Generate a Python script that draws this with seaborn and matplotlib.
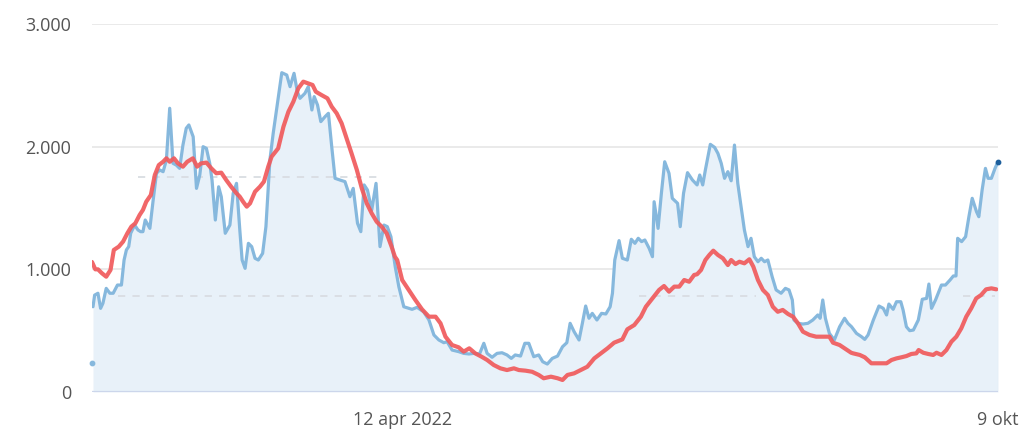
import numpy as np
import pandas as pd
import matplotlib
matplotlib.use("Agg")
import matplotlib.pyplot as plt
import matplotlib.ticker as mticker
import seaborn as sns

# ---------------- data ----------------
start_date = "2022-01-08"

blue_days = [0.3, 0.8, 1.8, 2.6, 3.3, 4.3, 5.4, 6.4, 7.7, 8.9, 9.7, 10.4, 11.1, 11.7, 12.9, 13.9,
             14.7, 15.4, 16.1, 17.5, 18.5, 19.5, 20.5, 21.5, 22.5, 23.5, 24.0, 24.5, 25.5, 26.5,
             27.5, 28.5, 29.3, 30.6, 31.6, 32.6, 33.6, 34.6, 35.6, 36.3, 37.3, 38.3, 39.1, 40.3,
             41.7, 42.7, 43.7, 44.7, 45.4, 46.3, 47.3, 48.3, 49.3, 50.3, 51.6, 52.6, 53.8, 54.8,
             56.1, 57.4, 58.9, 59.9, 61.1, 62.1, 62.9, 64.4, 65.4, 66.5, 67.2, 68.2, 69.2, 70.5,
             71.5, 72.5, 73.5, 75.0, 76.5, 78.0, 79.0, 80.3, 81.3, 82.3, 83.3, 84.6, 85.9, 87.1,
             88.3, 89.3, 90.4, 91.7, 92.8, 94.3, 96.8, 98.3, 100.3, 101.9, 103.4, 104.9, 106.4,
             107.4, 108.9, 110.9, 112.4, 114.0, 115.5, 117.2, 118.5, 119.5, 121.0, 122.5, 124.0,
             125.5, 126.8, 128.0, 129.6, 130.9, 132.1, 133.6, 135.1, 136.3, 137.7, 139.2, 140.8,
             142.3, 143.6, 144.6, 145.8, 147.3, 148.3, 149.3, 150.3, 151.3, 152.7, 154.1, 155.4,
             156.7, 157.4, 158.1, 159.4, 160.4, 161.9, 163.1, 164.2, 165.2, 166.2, 167.2, 168.5,
             169.5, 170.0, 171.2, 172.2, 173.2, 174.5, 175.5, 177.1, 177.9, 178.9, 180.1, 181.6,
             183.0, 183.8, 184.7, 185.5, 187.0, 188.3, 189.3, 190.3, 191.3, 192.3, 193.3, 194.3,
             195.3, 196.3, 197.3, 198.4, 199.3, 200.3, 201.4, 202.4, 203.4, 204.4, 205.7, 206.9,
             208.4, 209.7, 210.8, 211.8, 212.3, 213.5, 215.0, 216.5, 218.0, 219.5, 220.2, 221.0,
             221.8, 223.0, 224.5, 226.1, 227.6, 228.6, 229.7, 231.2, 232.7, 233.7, 234.7, 236.3,
             238.0, 239.3, 240.3, 241.0, 242.3, 243.3, 244.6, 245.3, 246.3, 247.3, 248.4, 249.9,
             251.1, 252.4, 253.1, 253.9, 255.1, 256.9, 258.1, 259.5, 260.5, 261.3, 261.8, 263.0,
             264.2, 265.2, 266.2, 267.5, 268.2, 269.2, 270.2, 271.0, 272.0, 273.1, 274.0]
blue_vals = [695, 790, 805, 682, 723, 845, 805, 805, 872, 872, 1076, 1158, 1185, 1294, 1361, 1321,
             1307, 1307, 1402, 1334, 1565, 1783, 1810, 1796, 1891, 2313, 2081, 1864, 1850, 1823,
             2013, 2150, 2177, 2081, 1660, 1769, 2000, 1986, 1864, 1728, 1402, 1673, 1592, 1294,
             1361, 1620, 1701, 1321, 1076, 1008, 1212, 1185, 1090, 1076, 1130, 1348, 1891, 2109,
             2354, 2603, 2584, 2489, 2598, 2448, 2394, 2435, 2489, 2299, 2408, 2340, 2204, 2245,
             2272, 2000, 1742, 1728, 1715, 1592, 1660, 1375, 1307, 1688, 1647, 1484, 1701, 1185,
             1361, 1348, 1266, 1022, 858, 695, 674, 690, 654, 587, 465, 424, 402,
             410, 342, 329, 315, 310, 315, 310, 397, 315, 283, 315, 320,
             302, 274, 302, 293, 397, 397, 288, 302, 247, 228, 274, 293,
             369, 402, 560, 492, 424, 560, 701, 601, 641, 587, 641, 636,
             695, 805, 1076, 1234, 1090, 1076, 1245, 1212, 1253, 1226, 1239, 1171,
             1103, 1551, 1334, 1620, 1877, 1783, 1579, 1538, 1348, 1620, 1788, 1728,
             1688, 1769, 1688, 1810, 2019, 1994, 1945, 1864, 1742, 1796, 1722, 2013,
             1701, 1510, 1321, 1185, 1253, 1103, 1062, 1090, 1062, 1076, 940, 832,
             805, 845, 832, 750, 587, 560, 554, 560, 587, 628, 601, 750,
             601, 478, 424, 532, 601, 560, 532, 478, 451, 429, 465, 587,
             701, 682, 628, 717, 674, 736, 736, 668, 532, 500, 505, 587,
             756, 763, 880, 682, 750, 872, 872, 913, 946, 946, 1253, 1226,
             1266, 1429, 1579, 1470, 1429, 1647, 1823, 1742, 1742, 1823, 1877]
blue_first_day = 0
blue_first_val = 236

red_days = [0.0, 1.0, 1.8, 3.0, 4.3, 5.6, 6.6, 8.1, 9.4, 10.7, 11.9, 13.1, 14.4, 15.4, 16.4, 17.8,
            19.0, 20.2, 21.5, 22.5, 23.5, 24.8, 26.0, 27.5, 28.8, 30.5, 31.8, 33.0, 34.6, 36.1,
            37.6, 39.1, 40.6, 42.1, 43.7, 44.7, 45.7, 46.8, 47.8, 49.3, 50.8, 52.0, 53.3, 54.3,
            56.3, 57.9, 59.4, 60.9, 62.4, 63.9, 65.4, 66.7, 67.7, 69.4, 71.2, 72.5, 74.0, 75.5,
            77.0, 78.5, 80.1, 81.6, 83.1, 84.6, 86.1, 87.6, 89.1, 90.6, 91.6, 92.3, 93.8, 95.8,
            97.8, 99.8, 101.9, 103.9, 105.4, 106.9, 108.9, 110.9, 112.4, 114.1, 115.9, 117.8,
            119.5, 121.5, 123.5, 125.5, 127.6, 129.1, 131.1, 133.1, 135.1, 136.6, 138.8, 140.8,
            142.3, 143.8, 145.8, 147.8, 149.8, 151.9, 153.9, 155.9, 157.9, 160.4, 161.9, 164.0,
            166.0, 167.5, 169.5, 171.5, 173.0, 174.5, 176.1, 177.6, 179.1, 180.6, 182.1, 183.0,
            184.2, 185.5, 186.7, 187.9, 189.3, 190.8, 192.3, 193.3, 194.6, 195.8, 197.3, 198.8,
            200.0, 201.4, 202.9, 204.4, 205.9, 207.4, 208.9, 210.5, 212.0, 213.5, 215.0, 217.0,
            219.0, 221.0, 223.0, 224.1, 226.1, 228.1, 229.6, 230.2, 232.2, 233.7, 235.7, 237.7,
            240.3, 241.8, 243.3, 244.8, 246.3, 247.8, 249.3, 250.0, 251.4, 252.9, 254.4, 255.4,
            256.9, 258.4, 259.9, 261.4, 262.9, 264.4, 265.9, 267.4, 268.9, 270.4, 272.0, 273.5]
red_vals = [1060, 1000, 1000, 968, 940, 995, 1158, 1185, 1226, 1294, 1348, 1375, 1443, 1484, 1551, 1606,
            1769, 1850, 1877, 1905, 1877, 1905, 1864, 1837, 1877, 1905, 1837, 1864, 1870, 1823,
            1783, 1788, 1728, 1673, 1620, 1592, 1551, 1511, 1538, 1633, 1674, 1715, 1837, 1918,
            1986, 2163, 2285, 2367, 2476, 2530, 2516, 2503, 2448, 2421, 2394, 2326, 2272, 2190,
            2068, 1945, 1810, 1660, 1538, 1456, 1388, 1348, 1294, 1185, 1103, 1076, 913, 832,
            750, 674, 614, 614, 560, 451, 383, 364, 329, 356, 315, 288,
            261, 220, 193, 179, 193, 179, 174, 165, 139, 112, 125, 112,
            98, 139, 152, 179, 206, 274, 315, 356, 402, 429, 511, 546,
            614, 695, 763, 832, 864, 818, 859, 859, 913, 899, 954, 960,
            995, 1076, 1117, 1152, 1117, 1090, 1035, 1076, 1043, 1062, 1049, 1082,
            1022, 913, 832, 791, 695, 654, 669, 636, 614, 560, 492, 465,
            451, 451, 451, 402, 383, 347, 320, 315, 302, 283, 234, 234,
            234, 261, 274, 283, 293, 310, 315, 342, 320, 310, 302, 320,
            302, 342, 410, 451, 519, 614, 682, 763, 791, 837, 845, 837]

# faint dashed reference segments (level, first day, last day)
ref_levels = [785, 1755, 785, 785]
ref_from = [7.9, 13.9, 165.5, 263.5]
ref_to = [92.3, 87.1, 200.9, 273.2]

y_ticks = [0, 1000, 2000, 3000]
x_tick_dates = ["2022-04-12", "2022-10-09"]
x_tick_labels = ["12 apr 2022", "9 okt"]

# ---------------- build frames ----------------
t0 = pd.Timestamp(start_date)
blue_df = pd.DataFrame({"date": t0 + pd.to_timedelta(blue_days, unit="D"), "value": blue_vals})
red_df = pd.DataFrame({"date": t0 + pd.to_timedelta(red_days, unit="D"), "value": red_vals})

# ---------------- style ----------------
sns.set_style("white")
plt.rcParams["font.family"] = ["Open Sans", "DejaVu Sans"]

fig = plt.figure(figsize=(10.26, 4.44), dpi=100)
ax = fig.add_axes([92 / 1026, 1 - 392 / 444, (998 - 92) / 1026, (392 - 24) / 444])

BLUE = "#86b8dd"
FILL = "#e8f1f9"
RED = "#f05a5c"
GRID = "#e6e6e6"

# gridlines
for yv in y_ticks[1:]:
    ax.axhline(yv, color=GRID, lw=1.2, zorder=0)
ax.axhline(0, color="#ccd6eb", lw=1.6, zorder=5)

# area fill
fill = ax.fill_between(blue_df["date"], 0, blue_df["value"], color=FILL, lw=0, zorder=1)
ax.plot([blue_df["date"].iloc[-1]] * 2, [0, blue_df["value"].iloc[-1]],
        color="#d5e3ef", lw=0.8, zorder=1)

# dashed reference segments
for lvl, a, b in zip(ref_levels, ref_from, ref_to):
    ax.plot([t0 + pd.Timedelta(days=a), t0 + pd.Timedelta(days=b)], [lvl, lvl],
            color="#d9dde2", lw=1.3, ls=(0, (4, 4)), zorder=2)

# lines
sns.lineplot(data=blue_df, x="date", y="value", ax=ax, color=BLUE, lw=2.3, zorder=3,
             solid_joinstyle="round", solid_capstyle="round")
sns.lineplot(data=red_df, x="date", y="value", ax=ax, color=RED, lw=3.0, alpha=0.92, zorder=4,
             solid_joinstyle="round", solid_capstyle="round")

# first isolated point and final hover marker
ax.scatter([t0 + pd.Timedelta(days=blue_first_day)], [blue_first_val], s=10, color=BLUE,
           zorder=4, clip_on=False)
ax.scatter([blue_df["date"].iloc[-1]], [blue_df["value"].iloc[-1]], s=10, color="#1d5f9c",
           zorder=6, clip_on=False)

# axes
ax.set_xlim(t0, t0 + pd.Timedelta(days=274))
ax.set_ylim(0, 3000)
ax.set_yticks(y_ticks)
ax.yaxis.set_major_formatter(mticker.FuncFormatter(lambda v, p: f"{int(v):,}".replace(",", ".")))
ax.set_xticks(pd.to_datetime(x_tick_dates))
ax.set_xticklabels(x_tick_labels)
ax.tick_params(axis="both", length=0, labelsize=13, labelcolor="#555555")
ax.tick_params(axis="y", pad=15)
ax.tick_params(axis="x", pad=14)
ax.set_xlabel("")
ax.set_ylabel("")
for s in ax.spines.values():
    s.set_visible(False)
ax.grid(False)

fig.savefig("out.png", dpi=100)
